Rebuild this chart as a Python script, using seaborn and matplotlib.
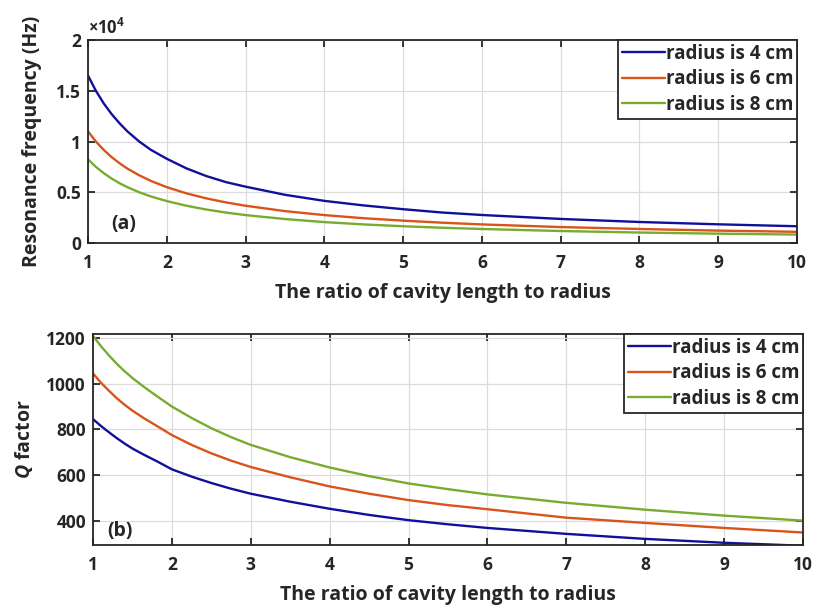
import numpy as np
import pandas as pd
import matplotlib
matplotlib.use("Agg")
import matplotlib.pyplot as plt
from matplotlib.ticker import FixedLocator, FixedFormatter
import seaborn as sns

# ---- data ----
ratio = [1, 1.1, 1.2, 1.3, 1.4, 1.5, 1.65, 1.8, 2, 2.25, 2.5, 2.75, 3, 3.5, 4,
         4.5, 5, 5.5, 6, 7, 8, 9, 10]
series_names = ["radius is 4 cm", "radius is 6 cm", "radius is 8 cm"]

freq_r4 = [16500, 15000, 13750, 12700, 11800, 11000, 10000, 9170, 8300, 7350, 6600,
           6000, 5550, 4750, 4150, 3700, 3330, 3000, 2760, 2370, 2070, 1840, 1650]
freq_r6 = [11000, 10000, 9170, 8460, 7860, 7330, 6670, 6110, 5500, 4890, 4400,
           4000, 3670, 3140, 2750, 2440, 2200, 2000, 1830, 1570, 1380, 1220, 1100]
freq_r8 = [8250, 7500, 6880, 6350, 5890, 5500, 5000, 4580, 4130, 3670, 3300,
           3000, 2750, 2360, 2060, 1830, 1650, 1500, 1380, 1180, 1030, 920, 830]

q_r4 = [845, 815, 788, 762, 738, 716, 688, 662, 625, 593, 565, 540, 518, 483, 452,
        425, 402, 384, 368, 342, 320, 303, 290]
q_r6 = [1045, 1005, 970, 937, 908, 882, 848, 817, 775, 732, 695, 663, 635, 590, 550,
        518, 490, 468, 450, 413, 390, 368, 348]
q_r8 = [1210, 1165, 1125, 1088, 1055, 1025, 985, 948, 900, 850, 805, 766, 732, 678,
        633, 595, 563, 538, 515, 478, 448, 422, 400]

x_ticks = [1, 2, 3, 4, 5, 6, 7, 8, 9, 10]
freq_ticks = [0, 5000, 10000, 15000, 20000]
freq_tick_labels = ["0", "0.5", "1", "1.5", "2"]
q_ticks = [400, 600, 800, 1000, 1200]

colors = ["#10109a", "#d9541a", "#77ac30"]

def long_df(vals):
    rows = []
    for name, v in zip(series_names, vals):
        for xi, yi in zip(ratio, v):
            rows.append({"ratio": xi, "value": yi, "series": name})
    return pd.DataFrame(rows)

df_f = long_df([freq_r4, freq_r6, freq_r8])
df_q = long_df([q_r4, q_r6, q_r8])

sns.set_theme(style="whitegrid")
plt.rcParams["font.family"] = ["Open Sans", "DejaVu Sans"]
plt.rcParams["font.weight"] = "bold"
plt.rcParams["mathtext.fontset"] = "custom"
plt.rcParams["mathtext.rm"] = "Open Sans:bold"
plt.rcParams["mathtext.it"] = "Open Sans:italic:bold"

fig = plt.figure(figsize=(8.17, 6.09), dpi=100)
ax1 = fig.add_axes([0.1077, 0.601, 0.8678, 0.3333])
ax2 = fig.add_axes([0.1138, 0.105, 0.8690, 0.3466])

palette = dict(zip(series_names, colors))
textc = "#262626"
tick_fs = 12.5
lab_fs = 14

for ax, df in [(ax1, df_f), (ax2, df_q)]:
    sns.lineplot(data=df, x="ratio", y="value", hue="series", palette=palette,
                 ax=ax, linewidth=1.7, estimator=None, sort=True)
    ax.set_facecolor("white")
    ax.set_xlim(1, 10)
    ax.set_xticks(x_ticks)
    ax.grid(True, color="#dcdcdc", linewidth=0.9)
    for s in ax.spines.values():
        s.set_visible(True)
        s.set_color("#262626")
        s.set_linewidth(1.3)
    ax.tick_params(direction="in", length=5, width=1.3, top=True, right=True,
                   bottom=True, left=True, colors=textc, labelsize=tick_fs)
    ax.tick_params(axis="x", pad=8)
    ax.tick_params(axis="y", pad=5)
    ax.set_xlabel("The ratio of cavity length to radius", fontsize=lab_fs,
                  color=textc, fontweight="bold", labelpad=8)
    leg = ax.legend(loc="upper right", frameon=True, fancybox=False, fontsize=13.5,
                    handlelength=2.3, handletextpad=0.05, borderpad=0.2,
                    labelspacing=0.3, borderaxespad=0.0)
    leg.get_frame().set_edgecolor("#262626")
    leg.get_frame().set_linewidth(1.3)
    leg.get_frame().set_alpha(1)
    for t in leg.get_texts():
        t.set_fontweight("bold")
        t.set_color(textc)

ax1.set_ylim(0, 20000)
ax1.yaxis.set_major_locator(FixedLocator(freq_ticks))
ax1.yaxis.set_major_formatter(FixedFormatter(freq_tick_labels))
ax1.text(0.0, 1.012, r"$\times\mathregular{10^4}$", transform=ax1.transAxes,
         fontsize=12, fontweight="bold", color=textc, ha="left", va="bottom")
ax1.set_ylabel("Resonance frequency (Hz)", fontsize=lab_fs, color=textc,
               fontweight="bold", labelpad=10)
ax1.text(1.3, 900, "(a)", fontsize=lab_fs, fontweight="bold", color=textc, va="bottom")

ax2.set_ylim(293, 1218)
ax2.set_yticks(q_ticks)
ax2.set_ylabel(r"$Q$ factor", fontsize=lab_fs, color=textc, fontweight="bold", labelpad=8)
ax2.text(1.18, 310, "(b)", fontsize=lab_fs, fontweight="bold", color=textc, va="bottom")

for ax in (ax1, ax2):
    for lab in ax.get_xticklabels() + ax.get_yticklabels():
        lab.set_fontweight("bold")

fig.savefig("out.png", dpi=100, facecolor="white")
